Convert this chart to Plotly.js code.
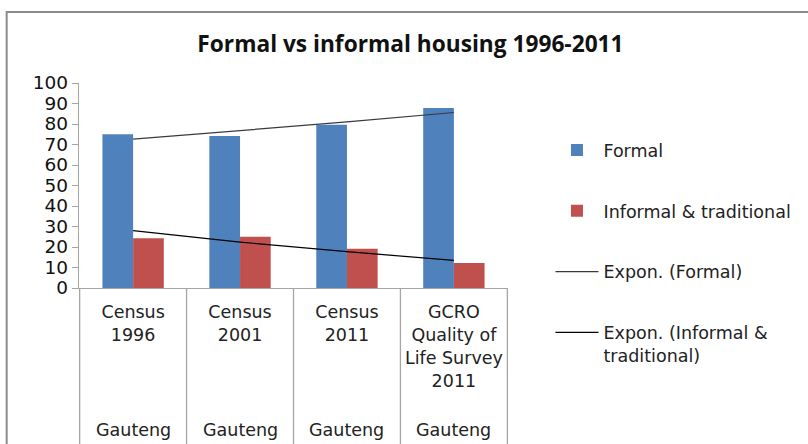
<!DOCTYPE html>
<html>
<head>
<meta charset="utf-8">
<script src="https://cdn.plot.ly/plotly-3.0.1.min.js"></script>
<style>html,body{margin:0;padding:0;background:#fff;}#chart{width:808px;height:444px;}</style>
</head>
<body>
<div id="chart"></div>
<script>
// Data
const categories = ["Census<br>1996", "Census<br>2001", "Census<br>2011", "GCRO<br>Quality of<br>Life Survey<br>2011"];
const regionLabels = ["Gauteng", "Gauteng", "Gauteng", "Gauteng"];
const formal = [75, 74.2, 79.6, 87.8];
const informal = [24.3, 25, 19.1, 12.2];
const trendFormal = [72.6, 76.7, 81.0, 85.6];
const trendInformal = [28.0, 22.4, 17.7, 13.5];
const seriesNames = ["Formal", "Informal & traditional", "Expon. (Formal)", "Expon. (Informal &<br>traditional)"];
const yTicks = [0, 10, 20, 30, 40, 50, 60, 70, 80, 90, 100];

const FONT = "DejaVu Sans";

const traces = [
  {type: "bar", x: categories, y: formal, name: seriesNames[0], legendgroup: "a",
   marker: {color: "#4F81BD"}},
  {type: "bar", x: categories, y: informal, name: seriesNames[1], legendgroup: "b",
   marker: {color: "#C0504D"}},
  {type: "scatter", mode: "lines", x: categories, y: trendFormal, name: seriesNames[2], legendgroup: "c",
   line: {color: "#3a3a3a", width: 1.2}},
  {type: "scatter", mode: "lines", x: categories, y: trendInformal, name: seriesNames[3], legendgroup: "d",
   line: {color: "#000000", width: 1.2}}
];

const shapes = [];
// category divider lines below the axis
for (let i = 0; i <= categories.length; i++) {
  shapes.push({type: "line", xref: "x", yref: "paper", x0: i - 0.5, x1: i - 0.5, y0: 0, y1: -0.8,
    line: {color: "#a6a6a6", width: 1.3}, layer: "above"});
}
// chart frame
shapes.push({type: "rect", xref: "paper", yref: "paper", x0: -0.1686, x1: 2, y0: -2, y1: 1.346,
  line: {color: "#8c8c8c", width: 2}, fillcolor: "rgba(0,0,0,0)"});

const annotations = regionLabels.map((t, i) => ({
  text: t, xref: "x", yref: "paper", x: i, y: -0.693, showarrow: false,
  xanchor: "center", yanchor: "middle", font: {family: FONT, size: 17.5, color: "#222"}
}));

const layout = {
  width: 808, height: 444,
  margin: {l: 79, r: 296, t: 83, b: 156, pad: 0},
  paper_bgcolor: "#fff", plot_bgcolor: "#fff",
  font: {family: FONT, size: 17.5, color: "#222"},
  title: {text: "<b>Formal vs informal housing 1996-2011</b>", x: 0.508, xref: "container", xanchor: "center",
    y: 0.9, yref: "container", yanchor: "middle",
    font: {family: "Open Sans", size: 22.7, color: "#111"}},
  barmode: "group", bargap: 0.426, bargroupgap: 0,
  xaxis: {type: "category", showgrid: false, zeroline: false, showline: true, linecolor: "#a6a6a6", linewidth: 1.3,
    ticks: "", ticklabelstandoff: 8, tickfont: {family: FONT, size: 17.5, color: "#222"}, fixedrange: true},
  yaxis: {range: [0, 100], tickvals: yTicks, showgrid: false, zeroline: false, showline: true,
    linecolor: "#a6a6a6", linewidth: 1.3, ticks: "outside", ticklen: 6, tickcolor: "#a6a6a6",
    tickfont: {family: FONT, size: 18.5, color: "#111"}},
  legend: {x: 1.099, y: 0.76, xanchor: "left", yanchor: "top", itemwidth: 43, tracegroupgap: 35,
    maxheight: 400, valign: "top",
    font: {family: FONT, size: 17.5, color: "#222"}, bgcolor: "rgba(0,0,0,0)"},
  shapes: shapes,
  annotations: annotations,
  showlegend: true
};

Plotly.newPlot("chart", traces, layout, {staticPlot: true, displayModeBar: false});
</script>
</body>
</html>
